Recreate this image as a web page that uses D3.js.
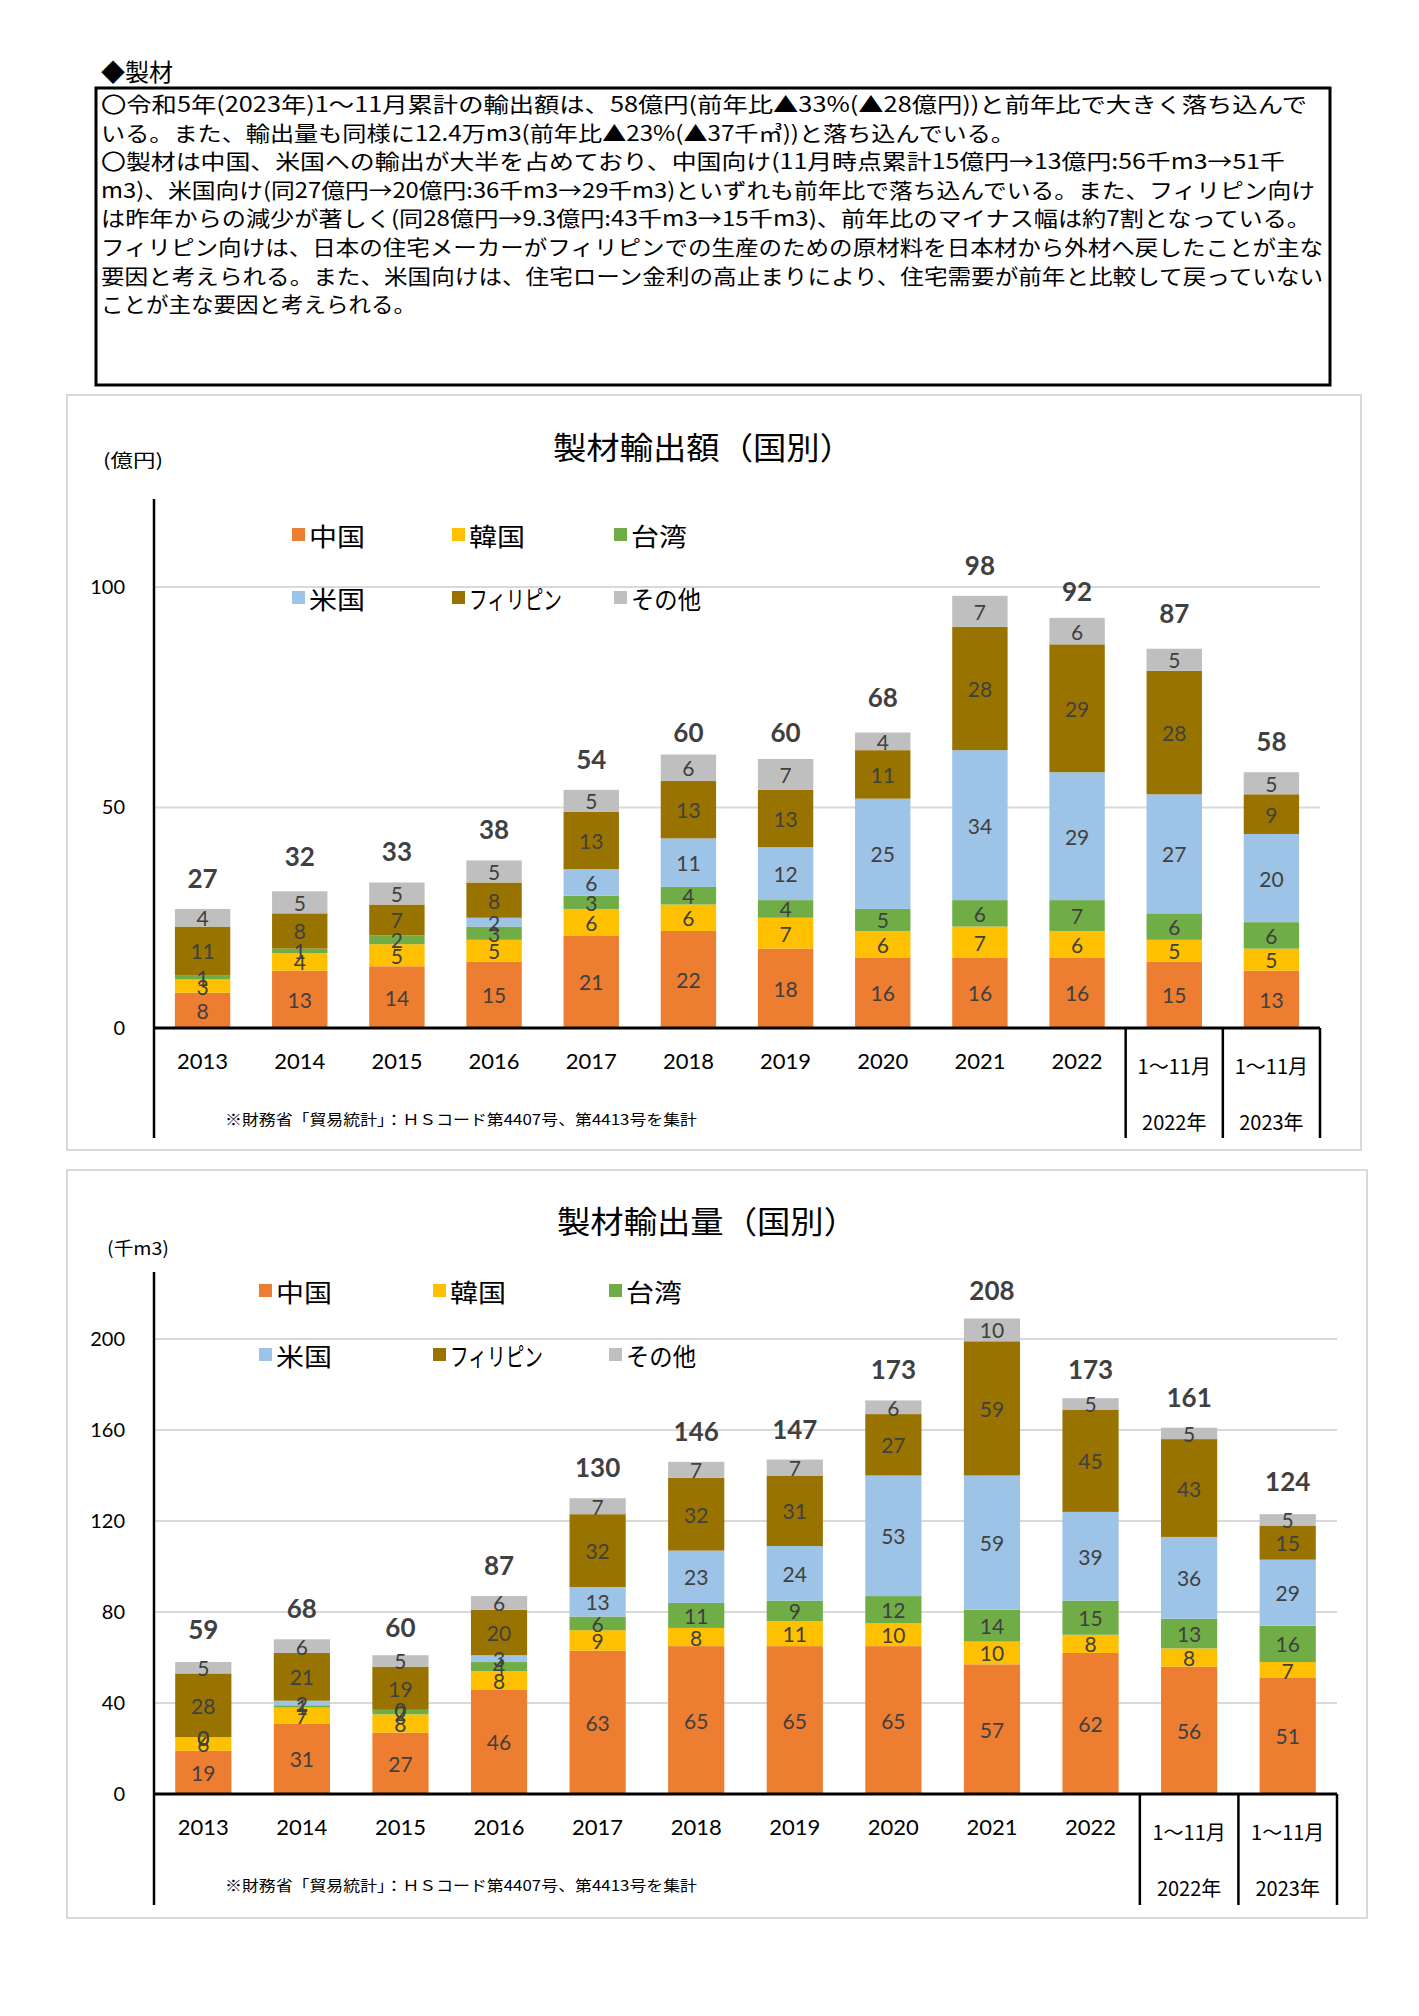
<!DOCTYPE html>
<html><head><meta charset="utf-8">
<script src="https://cdn.jsdelivr.net/npm/d3@7"></script>
<style>
html,body{margin:0;padding:0;background:#fff;}
svg{display:block;}
</style></head>
<body>
<svg id="page" width="1419" height="2016"></svg>
<script>
// ---------- data ----------
const categories = ["2013","2014","2015","2016","2017","2018","2019","2020","2021","2022","1～11月\n2022年","1～11月\n2023年"];
const seriesNames = ["中国","韓国","台湾","米国","フィリピン","その他"];
const seriesColors = ["#ED7D31","#FFC000","#70AD47","#9DC3E6","#997300","#BFBFBF"];

// 製材輸出額 (億円)
const valChina   = [8,13,14,15,21,22,18,16,16,16,15,13];
const valKorea   = [3,4,5,5,6,6,7,6,7,6,5,5];
const valTaiwan  = [1,1,2,3,3,4,4,5,6,7,6,6];
const valUSA     = [null,null,null,2,6,11,12,25,34,29,27,20];
const valPhil    = [11,8,7,8,13,13,13,11,28,29,28,9];
const valOther   = [4,5,5,5,5,6,7,4,7,6,5,5];
const valTotal   = [27,32,33,38,54,60,60,68,98,92,87,58];
const valTicks   = [0,50,100];

// 製材輸出量 (千m3)
const volChina   = [19,31,27,46,63,65,65,65,57,62,56,51];
const volKorea   = [6,7,8,8,9,8,11,10,10,8,8,7];
const volTaiwan  = [0,1,2,4,6,11,9,12,14,15,13,16];
const volUSA     = [0,2,0,3,13,23,24,53,59,39,36,29];
const volPhil    = [28,21,19,20,32,32,31,27,59,45,43,15];
const volOther   = [5,6,5,6,7,7,7,6,10,5,5,5];
const volTotal   = [59,68,60,87,130,146,147,173,208,173,161,124];
const volTicks   = [0,40,80,120,160,200];

const noteLines = [
 "〇令和5年(2023年)1～11月累計の輸出額は、58億円(前年比▲33%(▲28億円))と前年比で大きく落ち込んで",
 "いる。また、輸出量も同様に12.4万m3(前年比▲23%(▲37千㎥))と落ち込んでいる。",
 "〇製材は中国、米国への輸出が大半を占めており、中国向け(11月時点累計15億円→13億円:56千m3→51千",
 "m3)、米国向け(同27億円→20億円:36千m3→29千m3)といずれも前年比で落ち込んでいる。また、フィリピン向け",
 "は昨年からの減少が著しく(同28億円→9.3億円:43千m3→15千m3)、前年比のマイナス幅は約7割となっている。",
 "フィリピン向けは、日本の住宅メーカーがフィリピンでの生産のための原材料を日本材から外材へ戻したことが主な",
 "要因と考えられる。また、米国向けは、住宅ローン金利の高止まりにより、住宅需要が前年と比較して戻っていない",
 "ことが主な要因と考えられる。"
];
const sourceNote = "※財務省「貿易統計」：ＨＳコード第4407号、第4413号を集計";

// ---------- layout ----------
const noteWidths = [1206,914,1184,1214,1210,1222,1222,315];
const legendWidths = [56,56,56,56,93,70];

// ---------- drawing ----------
const svg = d3.select("#page");
const JP = "'Noto Sans CJK JP','Noto Sans',sans-serif";
const NUM = "Lato,'Open Sans',sans-serif";
const LABEL = "#404040";

svg.append("text").attr("x",101).attr("y",70).attr("dominant-baseline","central")
  .attr("font-family",JP).attr("font-size",24).attr("fill","#000").text("◆製材");
svg.append("rect").attr("x",96).attr("y",88).attr("width",1234).attr("height",297)
  .attr("fill","none").attr("stroke","#000").attr("stroke-width",3);
noteLines.forEach((t,i)=>{
  svg.append("text").attr("x",101).attr("y",103+i*28.6).attr("dominant-baseline","central")
    .attr("font-family",JP).attr("font-size",21).attr("fill","#000")
    .attr("textLength",noteWidths[i]).attr("lengthAdjust","spacingAndGlyphs").text(t);
});

function drawChart(cfg){
  const g = svg.append("g");
  g.append("rect").attr("x",cfg.frame[0]).attr("y",cfg.frame[1])
    .attr("width",cfg.frame[2]-cfg.frame[0]).attr("height",cfg.frame[3]-cfg.frame[1])
    .attr("fill","#fff").attr("stroke","#d9d9d9").attr("stroke-width",2);

  const x = d3.scaleBand().domain(categories).range([cfg.x0,cfg.x1]).paddingInner(0.43).paddingOuter(0.215);
  const y = d3.scaleLinear().domain([0,cfg.ticks[cfg.ticks.length-1]]).range([cfg.yBase,cfg.yTop]);

  // gridlines
  g.append("g").selectAll("line").data(cfg.ticks.filter(t=>t>0)).join("line")
    .attr("x1",cfg.x0).attr("x2",cfg.x1).attr("y1",d=>y(d)).attr("y2",d=>y(d))
    .attr("stroke","#d9d9d9").attr("stroke-width",2);

  // y axis labels
  const ya = g.append("g").attr("transform",`translate(${cfg.x0},0)`)
    .call(d3.axisLeft(y).tickValues(cfg.ticks).tickSize(0).tickPadding(29).tickFormat(d3.format("d")));
  ya.select(".domain").remove();
  ya.selectAll("text").attr("font-family",NUM).attr("font-size",20).attr("fill","#000");

  // stacked data
  const rows = categories.map((c,i)=>{
    const o = {cat:c};
    seriesNames.forEach((s,k)=>{ o[s] = cfg.series[k][i]; });
    return o;
  });
  const stack = d3.stack().keys(seriesNames).value((d,k)=> d[k]==null?0:d[k])(rows);

  stack.forEach((layer,k)=>{
    g.append("g").selectAll("rect").data(layer).join("rect")
      .attr("x",d=>x(d.data.cat)).attr("width",x.bandwidth())
      .attr("y",d=>y(d[1])).attr("height",d=>Math.max(0,y(d[0])-y(d[1])))
      .attr("fill",seriesColors[k]);
  });
  stack.forEach((layer,k)=>{
    g.append("g").selectAll("text").data(layer.filter(d=>d.data[seriesNames[k]]!=null)).join("text")
      .attr("x",d=>x(d.data.cat)+x.bandwidth()/2)
      .attr("y",d=>(y(d[0])+y(d[1]))/2)
      .attr("text-anchor","middle").attr("dominant-baseline","central")
      .attr("font-family",NUM).attr("font-size",21).attr("fill",LABEL)
      .text(d=>d.data[seriesNames[k]]);
  });

  // totals
  g.append("g").selectAll("text").data(cfg.totals).join("text")
    .attr("x",(d,i)=>x(categories[i])+x.bandwidth()/2)
    .attr("y",d=>y(d)-31)
    .attr("text-anchor","middle").attr("dominant-baseline","central")
    .attr("font-family",NUM).attr("font-size",26).attr("font-weight","bold").attr("fill",LABEL)
    .text(d=>d);

  // axes lines
  g.append("line").attr("x1",cfg.x0).attr("x2",cfg.x0).attr("y1",cfg.axisTop).attr("y2",cfg.yBottom)
    .attr("stroke","#000").attr("stroke-width",2.5);
  g.append("line").attr("x1",cfg.x0).attr("x2",cfg.x1).attr("y1",cfg.yBase).attr("y2",cfg.yBase)
    .attr("stroke","#000").attr("stroke-width",3);
  const half = (x.step()-x.bandwidth())/2;
  [categories[10],categories[11]].forEach(c=>{
    const sx = x(c)-half;
    g.append("line").attr("x1",sx).attr("x2",sx).attr("y1",cfg.yBase).attr("y2",cfg.yBottom)
      .attr("stroke","#000").attr("stroke-width",2.5);
  });
  g.append("line").attr("x1",cfg.x1).attr("x2",cfg.x1).attr("y1",cfg.yBase).attr("y2",cfg.yBottom)
    .attr("stroke","#000").attr("stroke-width",2.5);

  // category labels
  categories.forEach(c=>{
    const parts = c.split("\n");
    const cx = x(c)+x.bandwidth()/2;
    if(parts.length===1){
      g.append("text").attr("x",cx).attr("y",cfg.yBase+32).attr("text-anchor","middle")
        .attr("dominant-baseline","central").attr("font-family",NUM).attr("font-size",22).attr("fill","#000").text(c);
    } else {
      g.append("text").attr("x",cx).attr("y",cfg.yBase+37).attr("text-anchor","middle")
        .attr("dominant-baseline","central").attr("font-family",JP).attr("font-size",20).attr("fill","#000").text(parts[0]);
      g.append("text").attr("x",cx).attr("y",cfg.yBase+93).attr("text-anchor","middle")
        .attr("dominant-baseline","central").attr("font-family",JP).attr("font-size",20).attr("fill","#000").text(parts[1]);
    }
  });

  // source note
  g.append("text").attr("x",225).attr("y",cfg.yBase+90).attr("dominant-baseline","central")
    .attr("font-family",JP).attr("font-size",15).attr("fill","#000")
    .attr("textLength",472).attr("lengthAdjust","spacingAndGlyphs").text(sourceNote);

  // title & unit
  g.append("text").attr("x",cfg.titleX).attr("y",cfg.titleY).attr("text-anchor","middle")
    .attr("dominant-baseline","central").attr("font-family",JP).attr("font-size",31).attr("fill","#000")
    .attr("textLength",300).attr("lengthAdjust","spacingAndGlyphs").text(cfg.title);
  g.append("text").attr("x",cfg.unitX).attr("y",cfg.unitY).attr("text-anchor","middle")
    .attr("dominant-baseline","central").attr("font-family",JP).attr("font-size",18).attr("fill","#000")
    .attr("textLength",cfg.unitW).attr("lengthAdjust","spacingAndGlyphs").text(cfg.unit);

  // legend
  seriesNames.forEach((s,k)=>{
    const col = k%3, row = Math.floor(k/3);
    const lx = cfg.legX[col], ly = cfg.legY[row];
    g.append("rect").attr("x",lx).attr("y",ly-7).attr("width",13).attr("height",13).attr("fill",seriesColors[k]);
    g.append("text").attr("x",lx+17).attr("y",ly).attr("dominant-baseline","central")
      .attr("font-family",JP).attr("font-size",25).attr("fill","#000")
      .attr("textLength",legendWidths[k]).attr("lengthAdjust","spacingAndGlyphs").text(s);
  });
}

drawChart({
  frame:[67,395,1361,1150], x0:154, x1:1320, yBase:1028, yTop:587, yBottom:1138, axisTop:499,
  ticks:valTicks, series:[valChina,valKorea,valTaiwan,valUSA,valPhil,valOther], totals:valTotal,
  title:"製材輸出額（国別）", titleX:703, titleY:445, unit:"(億円)", unitX:133, unitY:459, unitW:60,
  legX:[292,452,614], legY:[535,598]
});
drawChart({
  frame:[67,1170,1367,1918], x0:154, x1:1337, yBase:1794, yTop:1339, yBottom:1905, axisTop:1272,
  ticks:volTicks, series:[volChina,volKorea,volTaiwan,volUSA,volPhil,volOther], totals:volTotal,
  title:"製材輸出量（国別）", titleX:707, titleY:1219, unit:"(千m3)", unitX:138, unitY:1247, unitW:62,
  legX:[259,433,609], legY:[1291,1355]
});
</script>
</body></html>
